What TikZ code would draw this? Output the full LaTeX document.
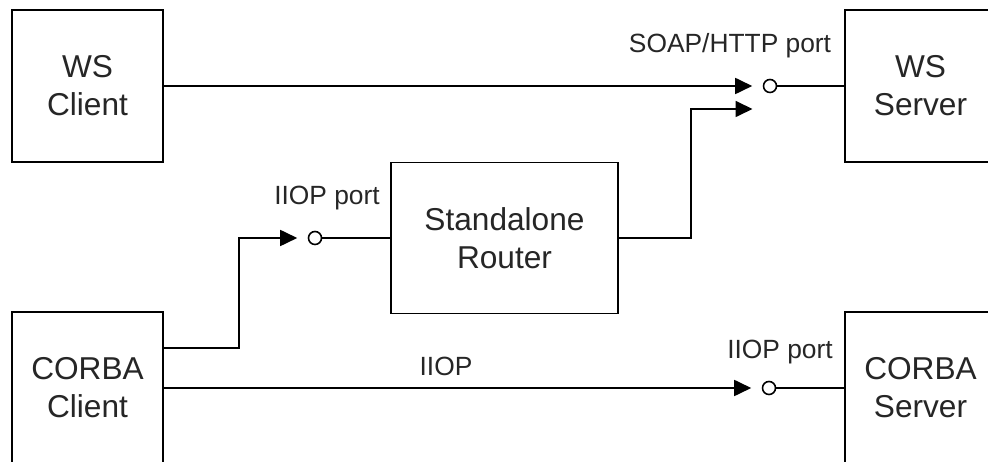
\documentclass[tikz,border=0pt]{standalone}
\usepackage{fontspec}
\setmainfont{Liberation Sans}
\usetikzlibrary{positioning,arrows.meta}
\newcommand{\boxfont}{\fontsize{18}{21.6}\selectfont}
\newcommand{\lblfont}{\fontsize{15}{18}\selectfont}

\begin{document}
\begin{tikzpicture}[x=0.02cm,y=-0.02cm,
    block/.style={draw,line width=1pt,fill=white,align=center,text=black!85,
      minimum width=3.02cm,minimum height=3.04cm,inner sep=0pt,font=\boxfont},
    port/.style={draw,circle,fill=white,line width=0.9pt,minimum size=0.26cm,inner sep=0pt},
    lbl/.style={text=black!85,font=\lblfont,inner sep=0pt},
    flow/.style={-{Triangle[length=0.34cm,width=0.32cm]},line width=1pt,shorten >=0.21cm},
    wire/.style={line width=1pt}]
  \useasboundingbox (0,0) rectangle (988,462);
  \clip (0,0) rectangle (988,462);

  \node (wscl) [block] at (87.5,86) {WS\\Client};
  \node (corbacl) [block] at (87.5,388) {CORBA\\Client};
  \node (wssrv) [block] at (920.5,86) {WS\\Server};
  \node (corbasrv) [block] at (920.5,388) {CORBA\\Server};
  \node (router) [block,minimum width=4.54cm,minimum height=3.02cm] at (504.5,238) {Standalone\\Router};

  \node (soapport) [port] at (770,86) {};
  \node (soapportlbl) [lbl] at (730,46) {SOAP/HTTP port};
  \coordinate (soapin) at (763,109);

  \node (iiopport) [port] at (315,238) {};
  \node (iiopportlbl) [lbl] at (327,198) {IIOP port};

  \node (corbaport) [port] at (769,388) {};
  \node (corbaportlbl) [lbl] at (780,352) {IIOP port};
  \node (iioplbl) [lbl] at (446,366) {IIOP};

  \draw [flow] (wscl) -- (soapport);
  \draw [wire] (soapport) -- (wssrv);
  \draw [flow] (router.east) -- ++(72,0) |- (soapin);

  \draw [flow] ([yshift=-0.74cm]corbacl.north east) -- ++(75,0) |- (iiopport);
  \draw [wire] (iiopport) -- (router);

  \draw [flow] (corbacl) -- (corbaport);
  \draw [wire] (corbaport) -- (corbasrv);
\end{tikzpicture}
\end{document}
